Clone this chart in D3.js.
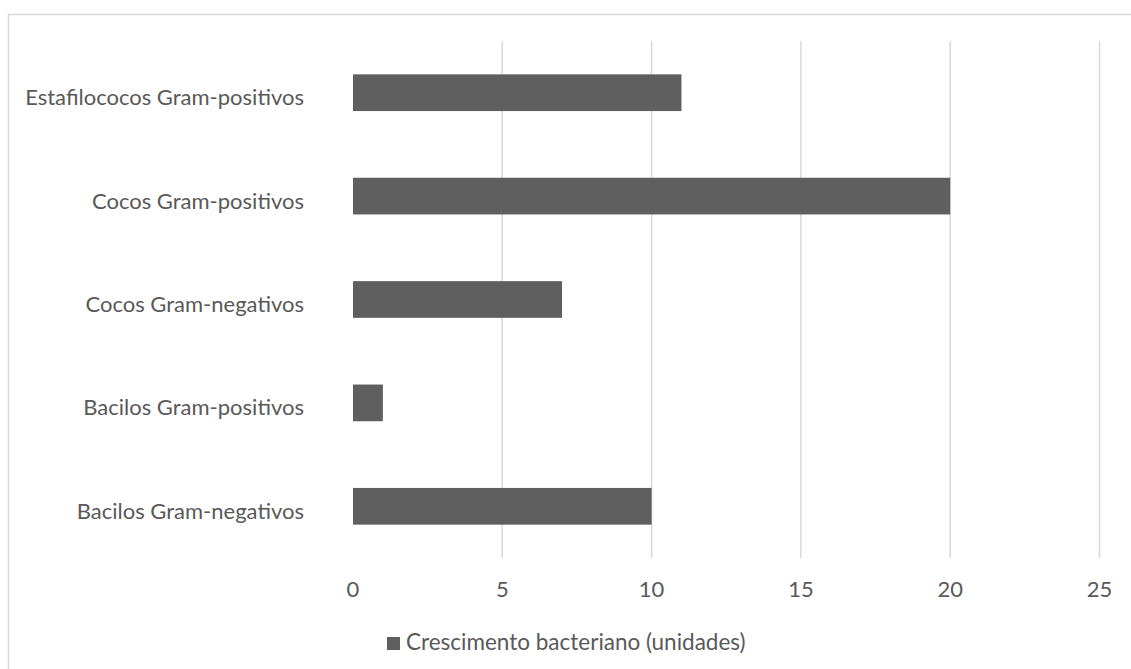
<!DOCTYPE html>
<html>
<head>
<meta charset="utf-8">
<script src="https://cdn.jsdelivr.net/npm/d3@7"></script>
<style>
  html, body { margin: 0; padding: 0; background: #ffffff; }
  svg { display: block; }
  text { font-family: Lato, "Open Sans", sans-serif; fill: #595959; }
</style>
</head>
<body>
<svg id="chart" width="1131" height="669"></svg>
<script>
const categories = [
  "Estafilococos Gram-positivos",
  "Cocos Gram-positivos",
  "Cocos Gram-negativos",
  "Bacilos Gram-positivos",
  "Bacilos Gram-negativos"
];
const values = [11, 20, 7, 1, 10];
const xTicks = [0, 5, 10, 15, 20, 25];
const seriesName = "Crescimento bacteriano (unidades)";

const svg = d3.select("#chart");
const W = 1131, H = 669;

// chart border
svg.append("rect")
  .attr("x", 8.5).attr("y", 14.5)
  .attr("width", W + 10).attr("height", H + 10)
  .attr("fill", "none").attr("stroke", "#d9d9d9").attr("stroke-width", 1.5);

const plot = { left: 353, right: 1099.5, top: 41, bottom: 558 };

const x = d3.scaleLinear().domain([0, 25]).range([plot.left, plot.right]);
const y = d3.scaleBand().domain(categories).range([plot.top, plot.bottom])
  .paddingInner(0.645).paddingOuter(0.3225);

// gridlines (skip 0)
svg.append("g").selectAll("line")
  .data(xTicks.filter(d => d !== 0))
  .join("line")
  .attr("x1", d => x(d)).attr("x2", d => x(d))
  .attr("y1", plot.top).attr("y2", plot.bottom)
  .attr("stroke", "#d9d9d9").attr("stroke-width", 1.5);

// bars
svg.append("g").selectAll("rect")
  .data(categories)
  .join("rect")
  .attr("x", x(0))
  .attr("y", d => y(d))
  .attr("width", (d, i) => x(values[i]) - x(0))
  .attr("height", y.bandwidth())
  .attr("fill", "#5f5f5f");

// category labels
svg.append("g").selectAll("text")
  .data(categories)
  .join("text")
  .attr("x", 304)
  .attr("y", d => y(d) + y.bandwidth() / 2 + 12.5)
  .attr("text-anchor", "end")
  .style("font-size", "22px")
  .text(d => d);

// x tick labels
svg.append("g").selectAll("text")
  .data(xTicks)
  .join("text")
  .attr("x", d => x(d))
  .attr("y", 597)
  .attr("text-anchor", "middle")
  .style("font-size", "22px")
  .text(d => d);

// legend
svg.append("rect")
  .attr("x", 387).attr("y", 637).attr("width", 13).attr("height", 13)
  .attr("fill", "#5f5f5f");
svg.append("text")
  .attr("x", 406).attr("y", 649.5)
  .style("font-size", "22.5px")
  .text(seriesName);
</script>
</body>
</html>
